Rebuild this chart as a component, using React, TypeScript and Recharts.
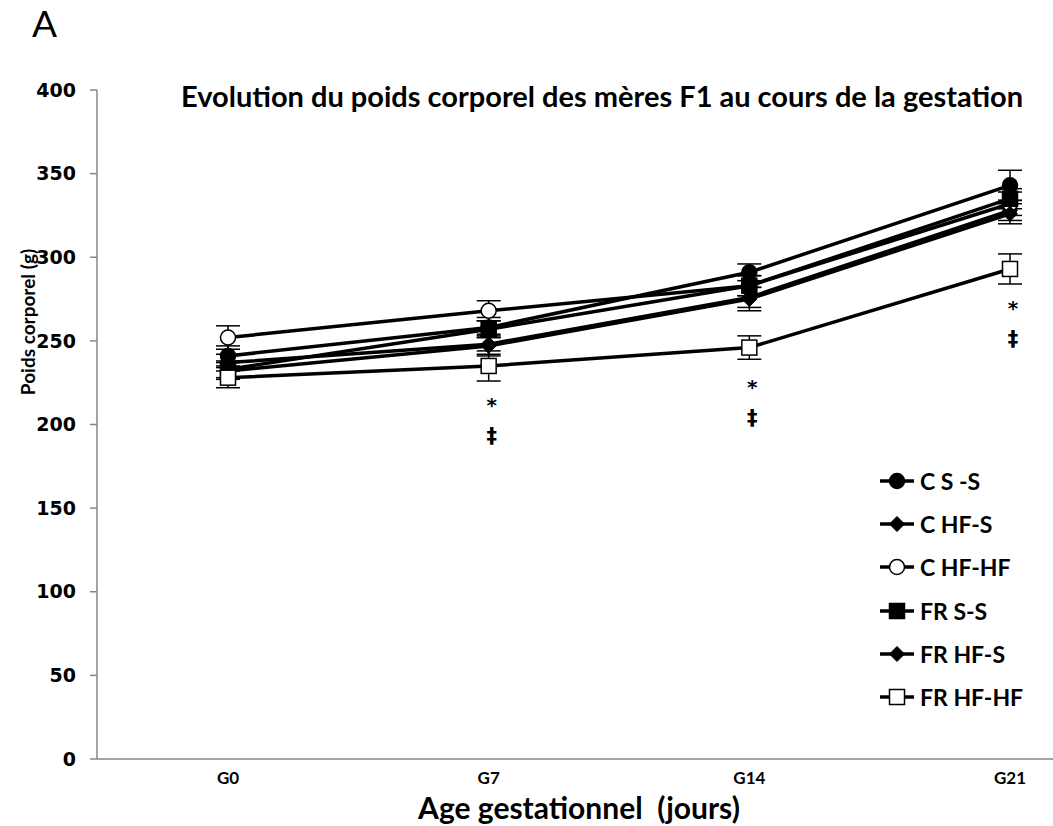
import React from 'react';
import { LineChart, Line, XAxis, YAxis, ErrorBar, LabelList } from 'recharts';

const ages = ['G0', 'G7', 'G14', 'G21'];

// poids moyen (g) et erreur standard par groupe
const cSS = [241, 258, 291, 343];
const cSSErr = [6, 6, 5, 9];
const cHFS = [237, 248, 276, 328];
const cHFSErr = [5, 6, 6, 6];
const cHFHF = [252, 268, 283, 332];
const cHFHFErr = [7, 6, 6, 7];
const frSS = [233, 257, 283, 335];
const frSSErr = [5, 5, 6, 6];
const frHFS = [232, 247, 275, 326];
const frHFSErr = [5, 6, 7, 6];
const frHFHF = [228, 235, 246, 293];
const frHFHFErr = [6, 9, 7, 9];
const frHFHFSig = ['', '*', '*', '*'];

const yTicks = [0, 50, 100, 150, 200, 250, 300, 350, 400];

const data = ages.map((age, i) => ({
    age,
    cSS: cSS[i], cSSErr: cSSErr[i],
    cHFS: cHFS[i], cHFSErr: cHFSErr[i],
    cHFHF: cHFHF[i], cHFHFErr: cHFHFErr[i],
    frSS: frSS[i], frSSErr: frSSErr[i],
    frHFS: frHFS[i], frHFSErr: frHFSErr[i],
    frHFHF: frHFHF[i], frHFHFErr: frHFHFErr[i],
    sig: frHFHFSig[i],
}));

type Shape = 'circle' | 'diamond' | 'square';

const series: { key: string; name: string; shape: Shape; fill: string }[] = [
    { key: 'cSS', name: 'C S -S', shape: 'circle', fill: '#000' },
    { key: 'cHFS', name: 'C HF-S', shape: 'diamond', fill: '#000' },
    { key: 'cHFHF', name: 'C HF-HF', shape: 'circle', fill: '#fff' },
    { key: 'frSS', name: 'FR S-S', shape: 'square', fill: '#000' },
    { key: 'frHFS', name: 'FR HF-S', shape: 'diamond', fill: '#000' },
    { key: 'frHFHF', name: 'FR HF-HF', shape: 'square', fill: '#fff' },
];

const marker = (shape: Shape, fill: string, cx: number, cy: number, key?: string | number) => {
    if (shape === 'circle') {
        return <circle key={key} cx={cx} cy={cy} r={7.5} fill={fill} stroke="#000" strokeWidth={1.5} />;
    }
    if (shape === 'square') {
        return <rect key={key} x={cx - 7.5} y={cy - 7.5} width={15} height={15} fill={fill} stroke="#000" strokeWidth={1.5} />;
    }
    return (
        <polygon
            key={key}
            points={`${cx - 7.5},${cy} ${cx},${cy - 7.5} ${cx + 7.5},${cy} ${cx},${cy + 7.5}`}
            fill={fill}
            stroke="#000"
            strokeWidth={1}
        />
    );
};

const renderSig = (props: any) => {
    const { x, y, value } = props;
    if (!value) return null;
    return (
        <g>
            <text x={x + 3} y={y + 46} textAnchor="middle" fontFamily="DejaVu Sans" fontWeight="bold" fontSize={20} fill="#000">
                {value}
            </text>
            <text x={x + 3} y={y + 77} textAnchor="middle" fontFamily="DejaVu Sans" fontWeight="bold" fontSize={21} fill="#000">
                ‡
            </text>
        </g>
    );
};

const LegendBox = () => (
    <div style={{ position: 'absolute', left: 878, top: 459, fontFamily: 'Lato', fontWeight: 'bold', fontSize: 23 }}>
        {series.map((s) => (
            <div key={s.key} style={{ display: 'flex', alignItems: 'center', height: 43.3 }}>
                <svg width={42} height={20}>
                    <line x1={2} y1={10} x2={36} y2={10} stroke="#000" strokeWidth={3.5} />
                    {marker(s.shape, s.fill, 19, 10)}
                </svg>
                <span>{s.name}</span>
            </div>
        ))}
    </div>
);

export default function App() {
    return (
        <div style={{ position: 'absolute', left: 0, top: 0, width: 1053, height: 826, background: '#fff' }}>
            <div style={{ position: 'absolute', left: 32, top: 0, fontFamily: 'Lato', fontSize: 37 }}>A</div>
            <div
                style={{
                    position: 'absolute',
                    left: 181,
                    top: 78,
                    fontFamily: 'Lato',
                    fontWeight: 'bold',
                    fontSize: 29,
                    whiteSpace: 'nowrap',
                }}
            >
                Evolution du poids corporel des mères F1 au cours de la gestation
            </div>
            <div
                style={{
                    position: 'absolute',
                    left: 27,
                    top: 322,
                    transform: 'translate(-50%, -50%) rotate(-90deg)',
                    fontFamily: 'Lato',
                    fontWeight: 'bold',
                    fontSize: 19,
                    whiteSpace: 'nowrap',
                }}
            >
                Poids corporel (g)
            </div>
            <div
                style={{
                    position: 'absolute',
                    left: 579,
                    top: 794,
                    transform: 'translateX(-50%)',
                    fontFamily: 'Lato',
                    fontWeight: 'bold',
                    fontSize: 30,
                    lineHeight: '26px',
                    whiteSpace: 'pre',
                }}
            >
                Age gestationnel  (jours)
            </div>
            <LineChart width={1053} height={826} data={data} margin={{ top: 90, right: 0, bottom: 0, left: 0 }}>
                <XAxis
                    dataKey="age"
                    padding={{ left: 131, right: 43 }}
                    axisLine={{ stroke: '#868686', strokeWidth: 1.5 }}
                    tickLine={false}
                    tick={{ fill: '#000', fontSize: 17, fontWeight: 'bold', fontFamily: 'Lato' }}
                    tickMargin={7}
                    height={67}
                />
                <YAxis
                    width={97}
                    domain={[0, 400]}
                    ticks={yTicks}
                    axisLine={{ stroke: '#868686', strokeWidth: 1.5 }}
                    tickLine={{ stroke: '#868686', strokeWidth: 1.5 }}
                    tickSize={7}
                    tickMargin={14}
                    tick={{ fill: '#000', fontSize: 19, fontWeight: 'bold', fontFamily: 'DejaVu Sans' }}
                />
                {series.map((s) => (
                    <Line
                        key={s.key}
                        dataKey={s.key}
                        name={s.name}
                        type="linear"
                        stroke="#000"
                        strokeWidth={3.5}
                        isAnimationActive={false}
                        dot={(p: any) => marker(s.shape, s.fill, p.cx, p.cy, `${s.key}-${p.index}`)}
                        activeDot={false}
                    >
                        <ErrorBar dataKey={`${s.key}Err`} width={12} stroke="#000" strokeWidth={1.5} direction="y" />
                        {s.key === 'frHFHF' && <LabelList dataKey="sig" content={renderSig} />}
                    </Line>
                ))}
            </LineChart>
            <LegendBox />
        </div>
    );
}
